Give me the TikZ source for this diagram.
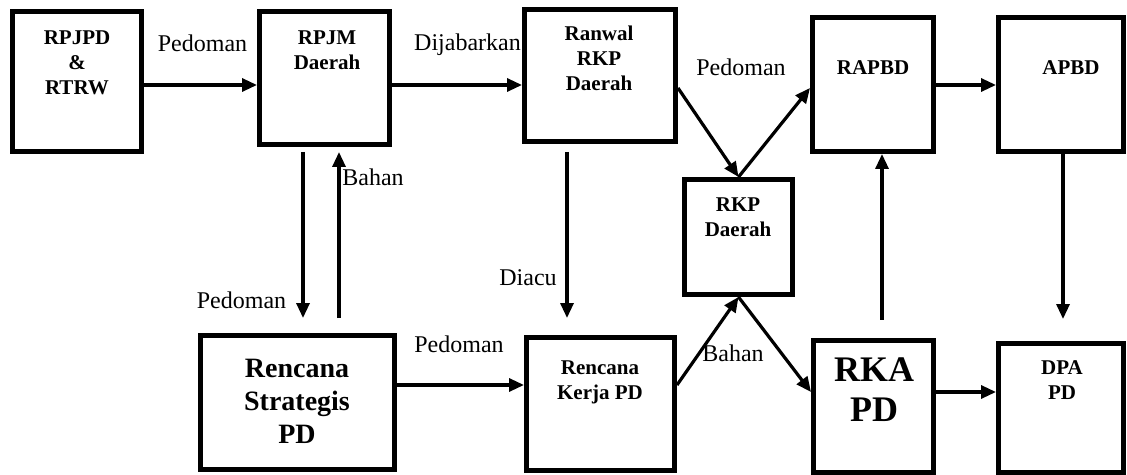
\documentclass[tikz,border=0pt]{standalone}
\usepackage{fontspec}
\setmainfont{Liberation Serif}
\usetikzlibrary{arrows.meta}

\begin{document}
\begin{tikzpicture}[x=0.5pt,y=-0.5pt,
    box/.style={draw,line width=2.5pt,inner sep=0pt},
    boxtxt/.style={font=\bfseries\fontsize{10.5}{12.5}\selectfont,align=center,inner sep=0pt},
    lbl/.style={font=\fontsize{12}{14}\selectfont,inner sep=0pt},
    arr/.style={line width=1.6pt,-{Triangle[length=7.5pt,width=6.5pt]}}]

    \useasboundingbox (0,0) rectangle (1127,475);	%1 unit = 1 pixel of the page

    %BOXES, top row
    \node[box,minimum width=64.5pt,minimum height=70pt] (rpjpd) at (77,81.5) {};
    \node[box,minimum width=65pt,minimum height=66.5pt] (rpjm) at (324.5,78) {};
    \node[box,minimum width=75.5pt,minimum height=66pt] (ranwal) at (600,75.5) {};
    \node[box,minimum width=60.5pt,minimum height=67pt] (rapbd) at (873,84.5) {};
    \node[box,minimum width=62.5pt,minimum height=67pt] (apbd) at (1061,84.5) {};
    %middle
    \node[box,minimum width=54pt,minimum height=57.5pt] (rkp) at (738.5,237) {};
    %bottom row
    \node[box,minimum width=97pt,minimum height=67pt] (renstra) at (297.5,402.5) {};
    \node[box,minimum width=74pt,minimum height=66.5pt] (renja) at (600.5,404) {};
    \node[box,minimum width=60pt,minimum height=66pt] (rka) at (873.5,406) {};
    \node[box,minimum width=62.5pt,minimum height=64.5pt] (dpa) at (1061,408) {};

    %TEXT IN BOXES
    \node[boxtxt] (rpjpd-t) at (77,62.5) {RPJPD\\\&\\RTRW};
    \node[boxtxt] (rpjm-t) at (327,50.5) {RPJM\\Daerah};
    \node[boxtxt] (ranwal-t) at (599,58) {Ranwal\\RKP\\Daerah};
    \node[boxtxt] (rapbd-t) at (873,68) {RAPBD};
    \node[boxtxt] (apbd-t) at (1071,68) {APBD};
    \node[boxtxt] (rkp-t) at (738,217.5) {RKP\\Daerah};
    \node[boxtxt,font=\bfseries\fontsize{14}{16.5}\selectfont] (renstra-t) at (297,401) {Rencana\\Strategis\\PD};
    \node[boxtxt] (renja-t) at (600,382) {Rencana\\Kerja PD};
    \node[boxtxt,font=\bfseries\fontsize{18}{20}\selectfont] (rka-t) at (874,390) {RKA\\PD};
    \node[boxtxt] (dpa-t) at (1062,380) {DPA\\PD};

    %rows and columns of the connectors
    \coordinate (toprow) at (0,85);	\coordinate (midrow) at (0,88);
    \coordinate (lowrow) at (0,385);	\coordinate (botrow) at (0,392);
    \coordinate (colA) at (303,0);	\coordinate (colB) at (339,0);
    \coordinate (colC) at (567,0);	\coordinate (colD) at (882,0);
    \coordinate (colE) at (1063,0);

    %HORIZONTAL AND SLANTED ARROWS
    \draw[arr] (rpjpd.east |- toprow) -- (rpjm.west |- toprow);
    \draw[arr] (rpjm.east |- toprow) -- (ranwal.west |- toprow);
    \draw[arr] (ranwal.east |- midrow) -- (rkp.north);
    \draw[arr] (rkp.north) -- (rapbd.west |- midrow);
    \draw[arr] (rapbd.east |- toprow) -- (apbd.west |- toprow);
    \draw[arr] (renstra.east |- lowrow) -- (renja.west |- lowrow);
    \draw[arr] (renja.east |- lowrow) -- (rkp.south);
    \draw[arr] (rkp.south) -- (rka.west |- botrow);
    \draw[arr] (rka.east |- botrow) -- (dpa.west |- botrow);

    %VERTICAL ARROWS
    \draw[arr,shorten <=2.5pt,shorten >=7.5pt] (colA |- rpjm.south) -- (colA |- renstra.north);
    \draw[arr,shorten <=7.5pt,shorten >=2.5pt] (colB |- renstra.north) -- (colB |- rpjm.south);
    \draw[arr,shorten <=4pt,shorten >=8.5pt] (colC |- ranwal.south) -- (colC |- renja.north);
    \draw[arr,shorten <=9pt] (colD |- rka.north) -- (colD |- rapbd.south);
    \draw[arr,shorten >=11pt] (colE |- apbd.south) -- (colE |- dpa.north);

    %LABELS
    \node[lbl] (ped-a) at (202.5,43) {Pedoman};
    \node[lbl] (jabar) at (467.5,45) {Dijabarkan};
    \node[lbl] (ped-b) at (741,67) {Pedoman};
    \node[lbl] (bahan-a) at (373,177) {Bahan};
    \node[lbl] (ped-c) at (241.5,300) {Pedoman};
    \node[lbl] (ped-d) at (459,344) {Pedoman};
    \node[lbl] (diacu) at (528,278) {Diacu};
    \node[lbl] (bahan-b) at (733,353) {Bahan};
\end{tikzpicture}
\end{document}
